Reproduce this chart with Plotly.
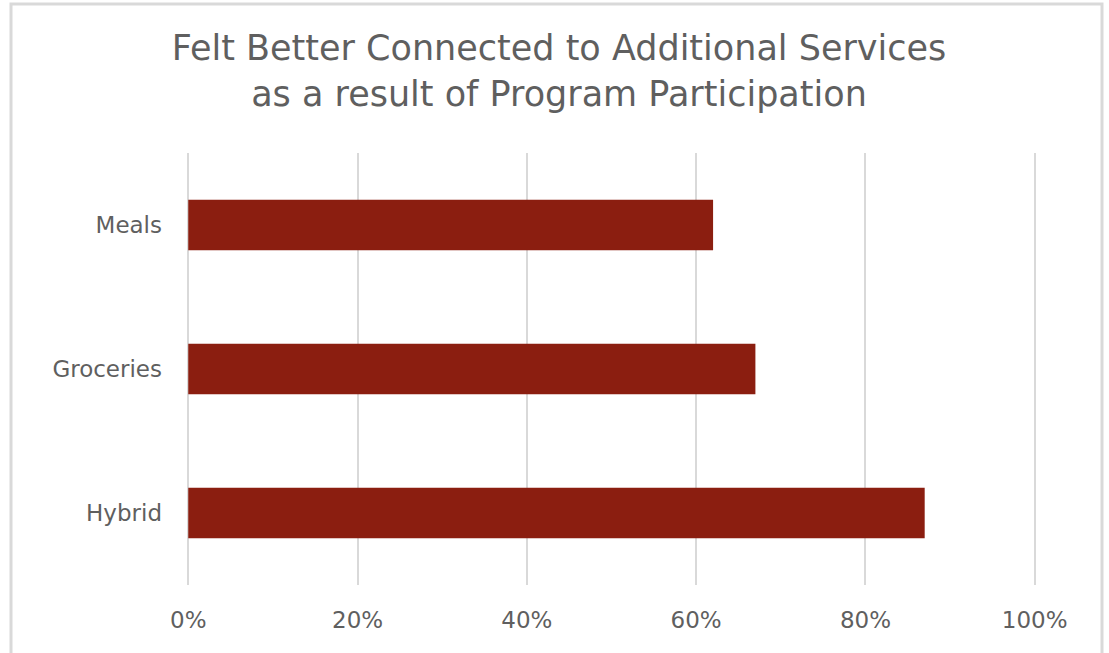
import plotly.graph_objects as go

categories = ["Meals", "Groceries", "Hybrid"]
values = [0.62, 0.67, 0.87]
tick_vals = [0, 0.2, 0.4, 0.6, 0.8, 1.0]
tick_text = ["0%", "20%", "40%", "60%", "80%", "100%"]

fig = go.Figure(go.Bar(
    y=categories, x=values, orientation="h",
    marker=dict(color="#8B1E10", line=dict(width=0)),
    hoverinfo="skip",
))

W, H = 1109, 653
l, r, t, b = 187, 73, 153, 68
pw, ph = W - l - r, H - t - b

def px(x):
    return (x - l) / pw

def py(y):
    return (H - b - y) / ph

FONT = "DejaVu Sans, sans-serif"

fig.update_layout(
    width=W, height=H,
    margin=dict(l=l, r=r, t=t, b=b),
    paper_bgcolor="white", plot_bgcolor="white",
    font=dict(family=FONT, color="#595959"),
    showlegend=False,
    bargap=0.65,
    title=dict(
        text="Felt Better Connected to Additional Services<br>as a result of Program Participation",
        x=px(559), xref="paper", xanchor="center",
        y=1 - 60 / H, yref="container", yanchor="middle",
        font=dict(size=35, color="#5f5f5f", family=FONT),
    ),
    xaxis=dict(
        range=[-0.0015, 1.0015], tickvals=tick_vals, ticktext=tick_text,
        showgrid=True, gridcolor="#d9d9d9", gridwidth=2,
        zeroline=False, showline=False,
        tickfont=dict(size=23, color="#5f5f5f"),
        ticks="", ticklabelstandoff=19, fixedrange=True,
    ),
    yaxis=dict(
        categoryorder="array", categoryarray=categories[::-1],
        showgrid=False, zeroline=False, showline=False,
        tickfont=dict(size=23, color="#5f5f5f"),
        ticks="", ticklabelstandoff=24, fixedrange=True,
    ),
    shapes=[dict(
        type="rect", xref="paper", yref="paper",
        x0=px(11), x1=px(1102), y0=py(660), y1=py(4),
        line=dict(color="#d9d9d9", width=3), fillcolor="rgba(0,0,0,0)", layer="below",
    )],
)

fig.write_html(
    "out.html",
    config={"displayModeBar": False, "staticPlot": True},
    post_script="document.body.style.margin='0';document.body.style.overflow='hidden';",
)
